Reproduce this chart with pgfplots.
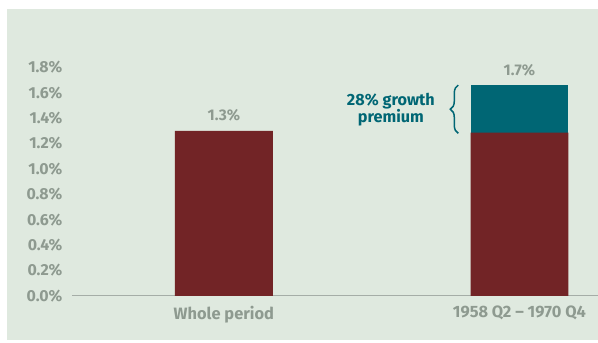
\documentclass[border=0pt]{standalone}
\usepackage{pgfplots}
\pgfplotsset{compat=1.18}
\usepackage{fontspec}
\setmainfont{Fira Sans}
\usetikzlibrary{decorations.pathreplacing}
\definecolor{bg}{HTML}{DFE9DF}
\definecolor{barred}{HTML}{722426}
\definecolor{barteal}{HTML}{006674}
\definecolor{txtgray}{HTML}{8E9A90}
\definecolor{axgray}{HTML}{A5ADA7}
\begin{document}
\begin{tikzpicture}
\fill[white] (0bp,0bp) rectangle (598bp,-343bp);
\fill[bg] (7bp,-9bp) rectangle (598bp,-340bp);
\begin{axis}[
  at={(72bp,-296bp)}, anchor=south west,
  scale only axis, width=526bp, height=228.6bp,
  xmin=-0.514, xmax=1.264, ymin=0, ymax=1.8,
  clip=false,
  ybar stacked, bar width=98bp,
  separate axis lines,
  axis x line*=bottom,
  x axis line style={draw=axgray, line width=1pt, -},
  y axis line style={draw=none},
  axis line style={-},
  major tick length=0pt,
  xtick={0,1}, xticklabels={Whole period, 1958 Q2 – 1970 Q4},
  ytick={0,0.2,...,1.8},
  yticklabel={\pgfmathprintnumber[fixed,fixed zerofill,precision=1]{\tick}\%},
  /pgf/number format/assume math mode=true,
  yticklabel style={font=\fontsize{16}{18}\selectfont\bfseries, text=txtgray, xshift=-6bp},
  xticklabel style={font=\fontsize{16.5}{20}\selectfont\bfseries, text=txtgray, yshift=-7bp},
]
\addplot[fill=barred, draw=none] coordinates {(0,1.3) (1,1.285)};
\addplot[fill=barteal, draw=none] coordinates {(0,0) (1,0.375)};
\node[anchor=base, inner sep=0pt, text=txtgray, font=\fontsize{15.5}{18}\selectfont\bfseries] at (axis cs:0,1.3) [yshift=10bp] {1.3\%};
\node[anchor=base, inner sep=0pt, text=txtgray, font=\fontsize{15.5}{18}\selectfont\bfseries] at (axis cs:1,1.66) [yshift=10bp] {1.7\%};
\draw[barteal, line width=1.5pt, decorate, decoration={brace, amplitude=8bp}] (axis cs:0.793,1.28) -- (axis cs:0.793,1.66);
\node[align=center, inner sep=0pt, text=barteal, font=\fontsize{16.3}{17.5}\selectfont\bfseries] at (axis cs:0.565,1.465) {28\% growth\\premium};
\end{axis}
\end{tikzpicture}
\end{document}
